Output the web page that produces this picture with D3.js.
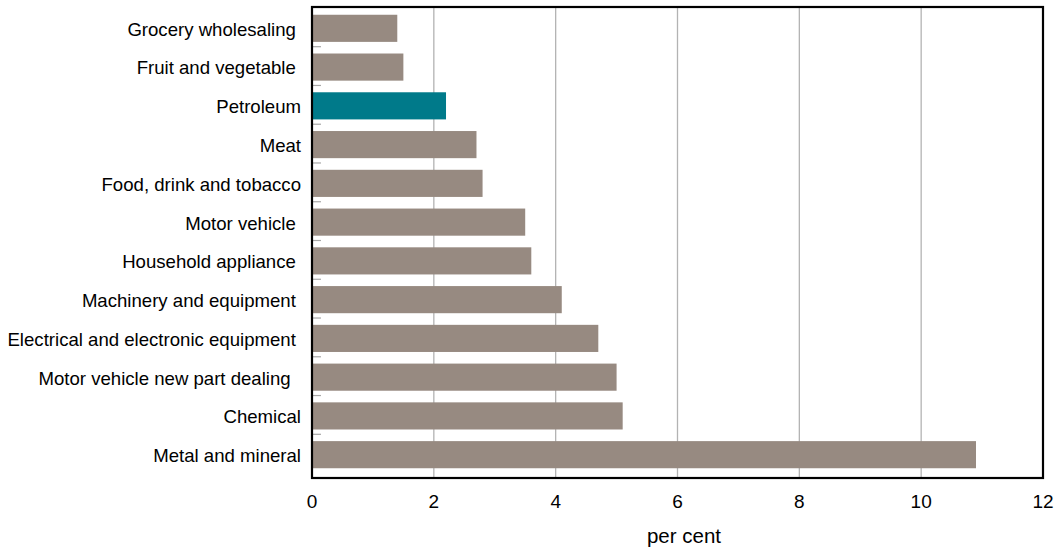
<!DOCTYPE html>
<html>
<head>
<meta charset="utf-8">
<script src="https://cdn.jsdelivr.net/npm/d3@7"></script>
<style>
  html, body { margin: 0; padding: 0; background: #fff; }
  svg { display: block; }
  text { font-family: "Liberation Sans", Arial, sans-serif; fill: #000; }
</style>
</head>
<body>
<svg id="chart" width="1060" height="548"></svg>
<script>
const categories = [
  "Grocery wholesaling ",
  "Fruit and vegetable ",
  "Petroleum",
  "Meat",
  "Food, drink and tobacco",
  "Motor vehicle ",
  "Household appliance ",
  "Machinery and equipment ",
  "Electrical and electronic equipment ",
  "Motor vehicle new part dealing  ",
  "Chemical",
  "Metal and mineral"
];
const values = [1.4, 1.5, 2.2, 2.7, 2.8, 3.5, 3.6, 4.1, 4.7, 5.0, 5.1, 10.9];
const highlighted = ["Petroleum"];
const xTicks = [0, 2, 4, 6, 8, 10, 12];
const xAxisTitle = "per cent";

(function () {
const svg = d3.select("#chart");
const pL = 312, pR = 1043, pT = 7, pB = 478;

const x = d3.scaleLinear().domain([0, 12]).range([pL, pR]);
const y = d3.scaleBand().domain(categories).range([pT, pB - 2])
  .paddingInner(0.3).paddingOuter(0.2);

// gridlines
svg.append("g").selectAll("line").data(xTicks.filter(t => t > 0 && t < 12)).join("line")
  .attr("x1", d => x(d)).attr("x2", d => x(d))
  .attr("y1", pT).attr("y2", pB)
  .attr("stroke", "#b3b3b3").attr("stroke-width", 1.3);

// small tick marks between categories
const gap = y.step() - y.bandwidth();
svg.append("g").selectAll("line").data(categories.slice(0, -1)).join("line")
  .attr("x1", pL).attr("x2", pL + 9)
  .attr("y1", d => y(d) + y.bandwidth() + gap / 2 - 1)
  .attr("y2", d => y(d) + y.bandwidth() + gap / 2 - 1)
  .attr("stroke", "#a8a8a8").attr("stroke-width", 1.2);

// bars
svg.append("g").selectAll("rect").data(categories).join("rect")
  .attr("x", x(0))
  .attr("y", d => y(d))
  .attr("width", (d, i) => x(values[i]) - x(0))
  .attr("height", y.bandwidth())
  .attr("fill", d => highlighted.includes(d) ? "#007a8a" : "#978a81");

// frame
svg.append("rect")
  .attr("x", pL).attr("y", pT)
  .attr("width", pR - pL).attr("height", pB - pT)
  .attr("fill", "none").attr("stroke", "#000").attr("stroke-width", 2.2);

// category labels
svg.append("g").selectAll("text").data(categories).join("text")
  .attr("x", 301)
  .attr("y", d => y(d) + y.bandwidth() / 2 + 2.5)
  .attr("text-anchor", "end")
  .attr("dominant-baseline", "middle")
  .style("white-space", "pre")
  .attr("font-size", 18.6)
  .text(d => d);

// x tick labels
svg.append("g").selectAll("text").data(xTicks).join("text")
  .attr("x", d => x(d))
  .attr("y", 508)
  .attr("text-anchor", "middle")
  .attr("font-size", 19)
  .text(d => d);

// axis title
svg.append("text")
  .attr("x", 684).attr("y", 543)
  .attr("text-anchor", "middle")
  .attr("font-size", 20.5)
  .text(xAxisTitle);
})();
</script>
</body>
</html>
